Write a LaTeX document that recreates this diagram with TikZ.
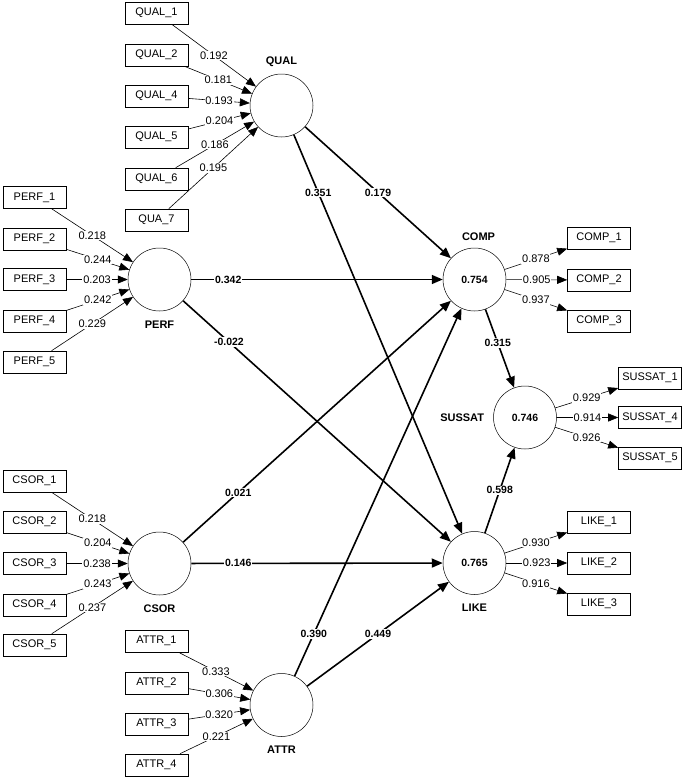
\documentclass[tikz,border=0pt]{standalone}
\usepackage{fontspec}
\setmainfont{Liberation Sans}
\usetikzlibrary{arrows.meta,positioning}
\tikzstyle{latent} = [circle, draw, line width=0.5pt, minimum size=63pt, inner sep=0pt, font=\fontsize{10.5}{12}\selectfont\bfseries]
\tikzstyle{indicator} = [rectangle, draw, line width=0.6pt, minimum width=63pt, minimum height=22pt, inner sep=1pt, font=\fontsize{11}{12}\selectfont]
\tikzstyle{lvname} = [font=\fontsize{11}{12}\selectfont\bfseries, inner sep=1pt]
\tikzstyle{structural} = [line width=1.6pt, -{Triangle[length=11pt,width=9pt]}]
\tikzstyle{measure} = [line width=0.6pt, -{Triangle[length=10pt,width=8pt]}]
\tikzstyle{coef} = [fill=white, inner sep=1pt, font=\fontsize{10.5}{12}\selectfont\bfseries]
\tikzstyle{loading} = [fill=white, inner sep=0.8pt, font=\fontsize{11}{12}\selectfont, midway]

\begin{document}
\begin{tikzpicture}[x=1pt, y=-1pt]
    \useasboundingbox (0,0) rectangle (685,779);

    % latent variables
    \node (qual) [latent] at (281.5,105.5) {};
    \node (perf) [latent] at (159.5,279.5) {};
    \node (comp) [latent] at (474.5,279.5) {0.754};
    \node (sussat) [latent] at (525,417.5) {0.746};
    \node (csor) [latent] at (159.5,563.5) {};
    \node (like) [latent] at (474.5,563) {0.765};
    \node (attr) [latent] at (281.5,705) {};

    \node [lvname, above=6pt of qual] {QUAL};
    \node [lvname, below=8pt of perf] {PERF};
    \node [lvname, above=6pt of comp, xshift=4pt] {COMP};
    \node [lvname, left=8pt of sussat] {SUSSAT};
    \node [lvname, below=8pt of csor] {CSOR};
    \node [lvname, below=8pt of like] {LIKE};
    \node [lvname, below=8pt of attr] {ATTR};

    % indicators
    \node (qual1) [indicator] at (156.5,13) {QUAL\_1};
    \node (qual2) [indicator] at (156.5,55) {QUAL\_2};
    \node (qual4) [indicator] at (156.5,96) {QUAL\_4};
    \node (qual5) [indicator] at (156.5,137) {QUAL\_5};
    \node (qual6) [indicator] at (156.5,179) {QUAL\_6};
    \node (qual7) [indicator] at (156.5,220) {QUA\_7};

    \node (perf1) [indicator] at (34.5,197.5) {PERF\_1};
    \node (perf2) [indicator] at (34.5,239) {PERF\_2};
    \node (perf3) [indicator] at (34.5,279.5) {PERF\_3};
    \node (perf4) [indicator] at (34.5,321) {PERF\_4};
    \node (perf5) [indicator] at (34.5,362) {PERF\_5};

    \node (csor1) [indicator] at (34.5,481) {CSOR\_1};
    \node (csor2) [indicator] at (34.5,522) {CSOR\_2};
    \node (csor3) [indicator] at (34.5,563.5) {CSOR\_3};
    \node (csor4) [indicator] at (34.5,605) {CSOR\_4};
    \node (csor5) [indicator] at (34.5,645) {CSOR\_5};

    \node (attr1) [indicator] at (156.5,641) {ATTR\_1};
    \node (attr2) [indicator] at (156.5,683) {ATTR\_2};
    \node (attr3) [indicator] at (156.5,724) {ATTR\_3};
    \node (attr4) [indicator] at (156.5,765) {ATTR\_4};

    \node (comp1) [indicator] at (599,238) {COMP\_1};
    \node (comp2) [indicator] at (599,280) {COMP\_2};
    \node (comp3) [indicator] at (599,321) {COMP\_3};

    \node (sussat1) [indicator] at (650,378) {SUSSAT\_1};
    \node (sussat4) [indicator] at (650,417.5) {SUSSAT\_4};
    \node (sussat5) [indicator] at (650,458) {SUSSAT\_5};

    \node (like1) [indicator] at (599,522) {LIKE\_1};
    \node (like2) [indicator] at (599,563) {LIKE\_2};
    \node (like3) [indicator] at (599,604) {LIKE\_3};

    % formative weights
    \draw [measure] (qual1) -- node [loading] {0.192} (qual);
    \draw [measure] (qual2) -- node [loading] {0.181} (qual);
    \draw [measure] (qual4) -- node [loading] {0.193} (qual);
    \draw [measure] (qual5) -- node [loading] {0.204} (qual);
    \draw [measure] (qual6) -- node [loading] {0.186} (qual);
    \draw [measure] (qual7) -- node [loading] {0.195} (qual);

    \draw [measure] (perf1) -- node [loading] {0.218} (perf);
    \draw [measure] (perf2) -- node [loading] {0.244} (perf);
    \draw [measure] (perf3) -- node [loading] {0.203} (perf);
    \draw [measure] (perf4) -- node [loading] {0.242} (perf);
    \draw [measure] (perf5) -- node [loading] {0.229} (perf);

    \draw [measure] (csor1) -- node [loading] {0.218} (csor);
    \draw [measure] (csor2) -- node [loading] {0.204} (csor);
    \draw [measure] (csor3) -- node [loading] {0.238} (csor);
    \draw [measure] (csor4) -- node [loading] {0.243} (csor);
    \draw [measure] (csor5) -- node [loading] {0.237} (csor);

    \draw [measure] (attr1) -- node [loading] {0.333} (attr);
    \draw [measure] (attr2) -- node [loading] {0.306} (attr);
    \draw [measure] (attr3) -- node [loading] {0.320} (attr);
    \draw [measure] (attr4) -- node [loading] {0.221} (attr);

    % reflective loadings
    \draw [measure] (comp) -- node [loading] {0.878} (comp1);
    \draw [measure] (comp) -- node [loading] {0.905} (comp2);
    \draw [measure] (comp) -- node [loading] {0.937} (comp3);

    \draw [measure] (sussat) -- node [loading] {0.929} (sussat1);
    \draw [measure] (sussat) -- node [loading] {0.914} (sussat4);
    \draw [measure] (sussat) -- node [loading] {0.926} (sussat5);

    \draw [measure] (like) -- node [loading] {0.930} (like1);
    \draw [measure] (like) -- node [loading] {0.923} (like2);
    \draw [measure] (like) -- node [loading] {0.916} (like3);

    % inner model
    \draw [structural] (qual) -- node [coef, pos=0.5] {0.179} (comp);
    \draw [structural] (qual) -- node [coef, pos=0.145] {0.351} (like);
    \draw [structural] (perf) -- node [coef, pos=0.147] {0.342} (comp);
    \draw [structural] (perf) -- node [coef, pos=0.171] {-0.022} (like);
    \draw [structural] (csor) -- node [coef, pos=0.206] {0.021} (comp);
    \draw [structural] (csor) -- node [coef, pos=0.187] {0.146} (like);
    \draw [structural] (attr) -- node [coef, pos=0.115] {0.390} (comp);
    \draw [structural] (attr) -- node [coef, pos=0.5] {0.449} (like);
    \draw [structural] (comp) -- node [coef, pos=0.43] {0.315} (sussat);
    \draw [structural] (like) -- node [coef, pos=0.5] {0.598} (sussat);
\end{tikzpicture}
\end{document}
